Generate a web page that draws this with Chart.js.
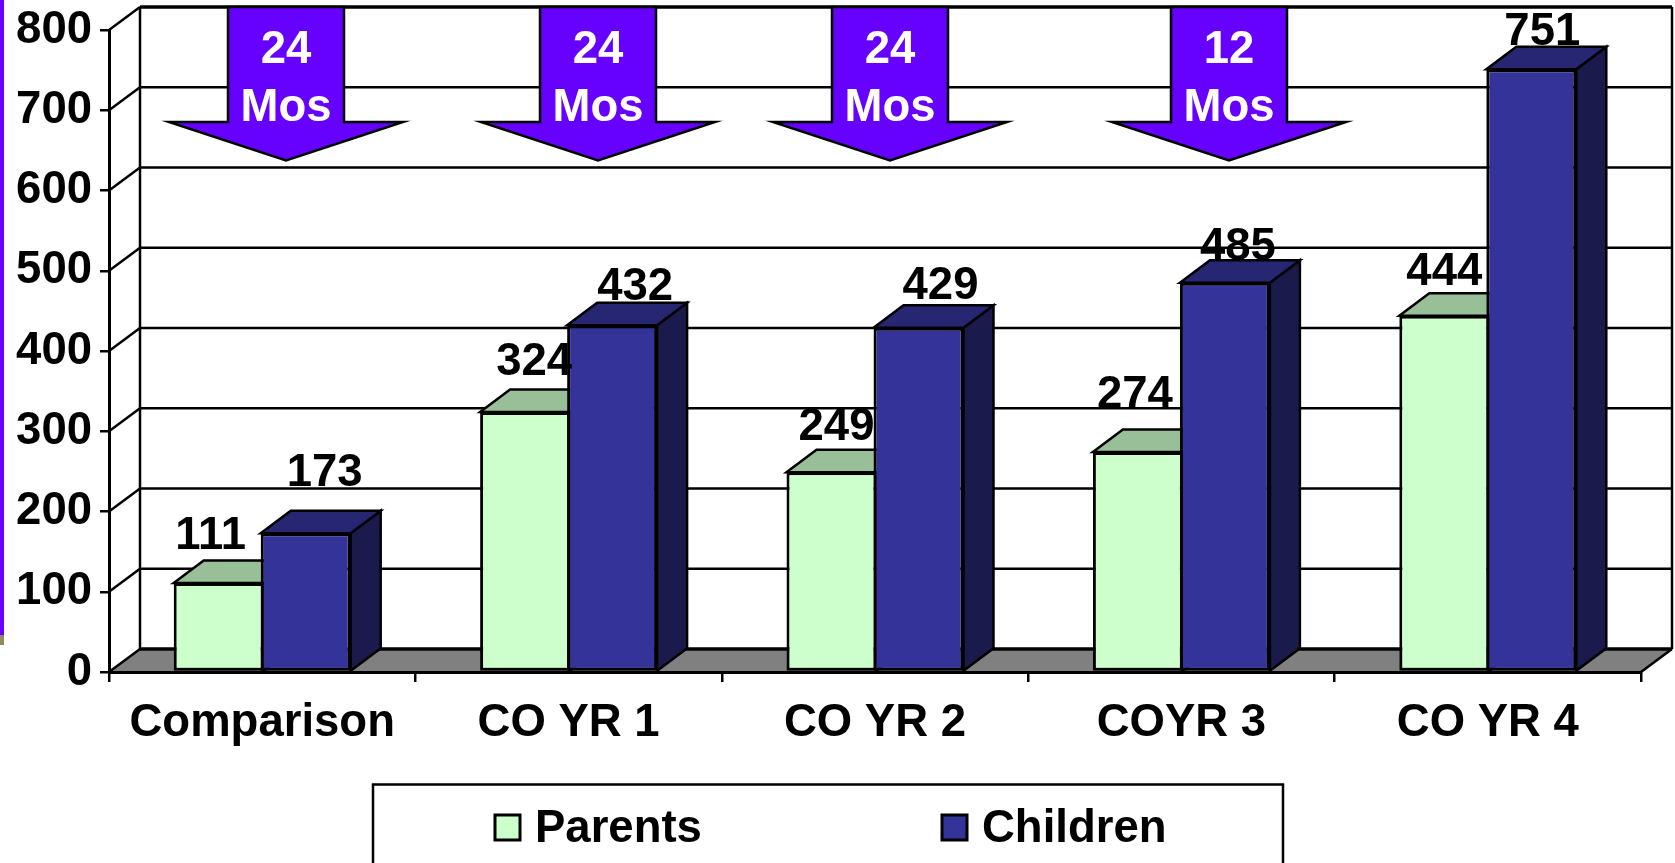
<!DOCTYPE html>
<html>
<head>
<meta charset="utf-8">
<title>Parents and Children</title>
<style>
  html, body { margin: 0; padding: 0; background: #fff; overflow: hidden; }
  canvas { display: block; }
</style>
<script src="https://cdn.jsdelivr.net/npm/chart.js@4/dist/chart.umd.min.js"></script>
</head>
<body>
<canvas id="chart" width="1675" height="863"></canvas>
<script>
const categories = ["Comparison", "CO YR 1", "CO YR 2", "COYR 3", "CO YR 4"];
const parents = [111, 324, 249, 274, 444];
const children = [173, 432, 429, 485, 751];
const arrowMonths = ["24", "24", "24", "12"];
const arrowUnit = "Mos";

const FONT = 'bold 45.5px "Liberation Sans", Arial, sans-serif';
const INK = "#000";

// how far the fake 3D depth is pushed back, walls and bars
const WALL_DX = 31;
const WALL_DY = 23;
const BAR_DX = 30;
const BAR_DY = 22.5;

// value labels sit off-centre over the bars, one [dx, gap] per bar
const parentLabelOffsets = [[-8, 34], [9, 37], [5, 32], [-3, 44], [0, 31]];
const childLabelOffsets = [[19, 47], [23, 25], [22, 29], [13, 23], [11, 24]];

// centre of each "months" arrow along the canvas
const arrowCenters = [286, 598, 890, 1229];

const legendItems = [
  { swatchX: 495, textX: 535 },
  { swatchX: 942, textX: 982 },
];

function fillShape(ctx, points, fill, lineWidth) {
  ctx.beginPath();
  points.forEach(([x, y], i) => (i ? ctx.lineTo(x, y) : ctx.moveTo(x, y)));
  ctx.closePath();
  ctx.fillStyle = fill;
  ctx.fill();
  ctx.lineWidth = lineWidth;
  ctx.strokeStyle = INK;
  ctx.stroke();
}

function strokeLine(ctx, x1, y1, x2, y2, lineWidth) {
  ctx.beginPath();
  ctx.moveTo(x1, y1);
  ctx.lineTo(x2, y2);
  ctx.lineWidth = lineWidth;
  ctx.strokeStyle = INK;
  ctx.stroke();
}

function drawPageEdge(ctx) {
  ctx.fillStyle = "#6600ff";
  ctx.fillRect(0, 0, 4, 635);
  ctx.fillStyle = "#8f8a5f";
  ctx.fillRect(0, 635, 4, 10);
}

function drawWalls(chart) {
  const { ctx, chartArea: area, scales } = chart;
  const backLeft = area.left + WALL_DX;
  const backRight = area.right + WALL_DX;
  const backFloor = area.bottom - WALL_DY;

  ctx.save();
  ctx.beginPath();
  ctx.moveTo(area.left, area.bottom);
  ctx.lineTo(backLeft, backFloor);
  ctx.lineTo(backRight, backFloor);
  ctx.lineTo(area.right, area.bottom);
  ctx.closePath();
  ctx.fillStyle = "#808080";
  ctx.fill();

  strokeLine(ctx, backLeft, area.top - WALL_DY, backLeft, backFloor, 2.5);
  strokeLine(ctx, backRight, area.top - WALL_DY, backRight, backFloor, 2.5);
  strokeLine(ctx, area.right, area.bottom, backRight, backFloor, 2.5);

  scales.y.ticks.forEach((tick) => {
    const y = scales.y.getPixelForValue(tick.value);
    const isEdge = tick.value === 0 || tick.value === 800;
    strokeLine(ctx, area.left, y, backLeft, y - WALL_DY, 2.5);
    strokeLine(ctx, backLeft, y - WALL_DY, backRight, y - WALL_DY, isEdge ? 3.5 : 2.5);
  });
  ctx.restore();
}

function drawBarDepth(chart, datasetIndex) {
  const { ctx } = chart;
  const dataset = chart.data.datasets[datasetIndex];
  chart.getDatasetMeta(datasetIndex).data.forEach((bar) => {
    const left = bar.x - bar.width / 2;
    const right = bar.x + bar.width / 2;
    const top = bar.y;
    const base = bar.base;
    fillShape(ctx, [
      [right, top], [right + BAR_DX, top - BAR_DY],
      [right + BAR_DX, base - BAR_DY], [right, base],
    ], dataset.sideColor, 2.5);
    fillShape(ctx, [
      [left, top], [left + BAR_DX, top - BAR_DY],
      [right + BAR_DX, top - BAR_DY], [right, top],
    ], dataset.topColor, 2.5);
  });
}

function drawValueLabels(chart) {
  const { ctx } = chart;
  const offsets = [parentLabelOffsets, childLabelOffsets];
  ctx.save();
  ctx.font = FONT;
  ctx.fillStyle = INK;
  ctx.textAlign = "center";
  ctx.textBaseline = "alphabetic";
  chart.data.datasets.forEach((dataset, d) => {
    chart.getDatasetMeta(d).data.forEach((bar, i) => {
      const [dx, gap] = offsets[d][i];
      ctx.fillText(String(dataset.data[i]), bar.x + dx, bar.y - gap);
    });
  });
  ctx.restore();
}

function drawArrows(chart) {
  const { ctx } = chart;
  const top = 7;
  const shoulder = 122;
  const tip = 160.5;
  ctx.save();
  ctx.lineJoin = "miter";
  ctx.miterLimit = 12;
  arrowCenters.forEach((cx, i) => {
    fillShape(ctx, [
      [cx - 58, top], [cx + 58, top], [cx + 58, shoulder], [cx + 117, shoulder],
      [cx, tip], [cx - 117, shoulder], [cx - 58, shoulder],
    ], "#6600ff", 2.5);
    ctx.font = FONT;
    ctx.fillStyle = "#fff";
    ctx.textAlign = "center";
    ctx.textBaseline = "alphabetic";
    ctx.fillText(arrowMonths[i], cx, 63);
    ctx.fillText(arrowUnit, cx, 121);
  });
  ctx.restore();
}

function drawLegend(chart) {
  const { ctx } = chart;
  ctx.save();
  // the box runs off the bottom of the page
  ctx.beginPath();
  ctx.moveTo(373, 870);
  ctx.lineTo(373, 784.5);
  ctx.lineTo(1283, 784.5);
  ctx.lineTo(1283, 870);
  ctx.lineWidth = 2.5;
  ctx.strokeStyle = INK;
  ctx.stroke();

  chart.data.datasets.forEach((dataset, d) => {
    const item = legendItems[d];
    ctx.fillStyle = dataset.backgroundColor;
    ctx.fillRect(item.swatchX, 815, 25, 25);
    ctx.lineWidth = 3;
    ctx.strokeRect(item.swatchX, 815, 25, 25);
    ctx.font = FONT;
    ctx.fillStyle = INK;
    ctx.textAlign = "left";
    ctx.textBaseline = "alphabetic";
    ctx.fillText(dataset.label, item.textX, 842);
  });
  ctx.restore();
}

const depthPlugin = {
  id: "depth",
  beforeDraw(chart) {
    drawPageEdge(chart.ctx);
    drawWalls(chart);
  },
  // Chart.js paints the last dataset first, but the children must end up
  // over the parents' side face, so they get painted after the parents.
  beforeDatasetDraw(chart, args) {
    if (args.index === 1) return false;
    drawBarDepth(chart, 0);
  },
  afterDatasetDraw(chart, args) {
    if (args.index !== 0) return;
    drawBarDepth(chart, 1);
    chart.getDatasetMeta(1).controller.draw();
  },
  afterDatasetsDraw(chart) {
    drawArrows(chart);
    drawValueLabels(chart);
    drawLegend(chart);
  },
};

const tickFont = { family: '"Liberation Sans", Arial, sans-serif', size: 45.5, weight: "bold" };

new Chart(document.getElementById("chart"), {
  type: "bar",
  data: {
    labels: categories,
    datasets: [
      { label: "Parents", data: parents, backgroundColor: "#ccffcc", topColor: "#99bf99", sideColor: "#668066" },
      { label: "Children", data: children, backgroundColor: "#333399", topColor: "#262673", sideColor: "#1a1a4d" },
    ],
  },
  plugins: [depthPlugin],
  options: {
    responsive: false,
    animation: false,
    events: [],
    layout: { padding: { top: 30, right: 34, left: 0, bottom: 0 } },
    datasets: {
      bar: {
        // a touch over 1 so neighbouring bars share one outline
        categoryPercentage: 0.568,
        barPercentage: 1.034,
        borderColor: INK,
        borderWidth: 3,
        borderSkipped: false,
      },
    },
    plugins: {
      legend: { display: false },
      tooltip: { enabled: false },
    },
    scales: {
      x: {
        afterFit: (axis) => { axis.height = 191; },
        border: { color: INK, width: 3 },
        grid: { drawOnChartArea: false, color: INK, lineWidth: 2.5, tickLength: 10 },
        ticks: { color: INK, font: tickFont, padding: 14, maxRotation: 0, autoSkip: false },
      },
      y: {
        min: 0,
        max: 800,
        // tick labels may hang over the plot edge without shrinking it
        afterFit: (axis) => {
          axis.width = 109;
          axis.paddingTop = 0;
          axis.paddingBottom = 0;
        },
        border: { color: INK, width: 3 },
        grid: { drawOnChartArea: false, color: INK, lineWidth: 2.5, tickLength: 9 },
        ticks: { color: INK, font: tickFont, padding: 8, stepSize: 100 },
      },
    },
  },
});
</script>
</body>
</html>
